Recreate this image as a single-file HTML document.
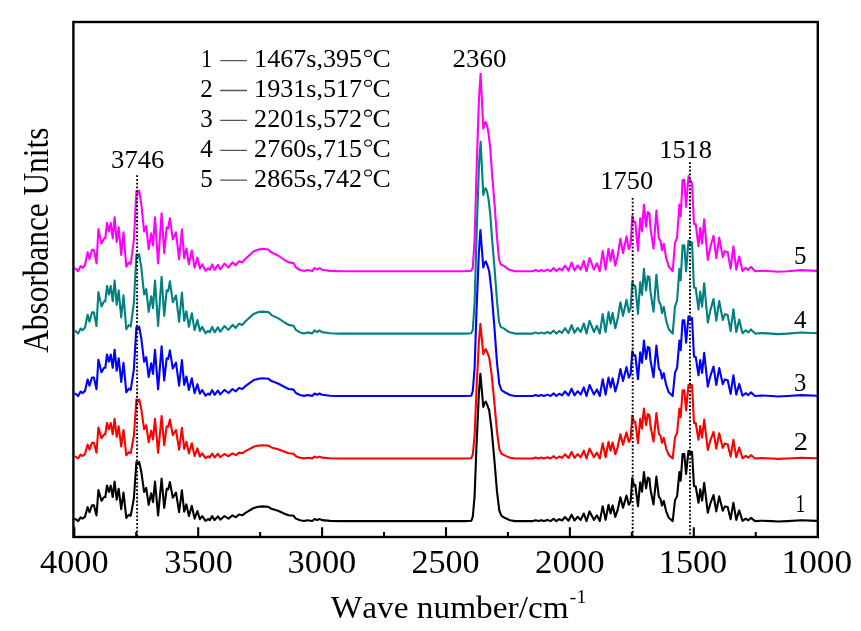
<!DOCTYPE html>
<html><head><meta charset="utf-8"><style>
html,body{margin:0;padding:0;background:#fff;}
body{width:861px;height:631px;overflow:hidden;position:relative;}
svg{position:absolute;left:0;top:0;will-change:transform;}
text{font-family:"Liberation Serif",serif;fill:#000;font-kerning:none;}
</style></head><body>
<svg width="861" height="631" viewBox="0 0 861 631">
<g fill="none" stroke-width="2.1" stroke-linejoin="round" stroke-linecap="round">
<path d="M75.5,268.6 78.1,271.2 80.6,266.0 82.5,267.8 85.0,265.2 87.6,252.2 89.5,259.1 92.0,249.7 93.9,249.7 96.5,263.4 98.4,229.0 101.5,243.6 104.1,238.4 105.3,238.4 107.0,222.9 108.9,231.5 110.7,222.9 112.7,238.4 114.6,217.3 116.7,242.0 118.7,227.3 121.2,254.9 123.5,232.4 126.3,266.8 128.8,262.6 130.7,264.0 133.9,240.2 136.4,191.0 137.7,193.7 139.2,190.7 141.3,204.0 144.1,231.5 146.2,226.0 148.7,249.2 151.2,233.3 153.0,245.4 155.0,217.3 158.1,263.4 161.6,213.4 164.2,253.1 166.7,227.3 168.2,228.1 169.9,218.2 172.8,239.4 176.0,232.4 179.1,259.1 181.9,229.4 184.2,258.3 186.4,248.5 188.9,264.3 191.8,250.5 194.6,267.8 197.4,257.5 199.9,268.6 202.2,264.3 205.5,270.8 208.1,268.3 209.8,269.8 212.2,264.4 214.6,269.8 217.9,264.8 220.3,269.3 224.4,263.6 228.5,267.4 232.5,262.4 235.8,265.4 239.0,261.2 242.3,262.4 245.5,258.7 248.8,255.7 253.7,251.3 258.5,249.5 262.6,248.9 268.3,249.5 271.5,252.5 278.0,255.5 284.6,260.0 288.6,262.4 293.5,263.1 295.9,267.4 300.0,270.0 304.1,271.0 307.3,270.0 312.2,271.0 314.6,268.0 317.1,269.7 319.5,268.0 322.0,269.7 330.0,270.9 340.0,271.2 400.0,271.2 465.0,271.2 471.3,270.8 472.8,267.3 474.6,239.6 476.5,172.5 478.9,99.9 480.6,73.9 481.9,99.9 483.3,128.7 484.4,124.2 485.6,121.8 487.0,125.2 488.5,133.1 490.3,148.9 492.0,173.1 494.6,204.9 497.2,239.8 499.0,259.0 500.7,264.3 504.2,266.1 508.6,269.4 515.0,271.2 530.0,271.2 532.8,271.2 535.6,270.0 538.4,271.2 541.2,270.0 544.0,271.2 547.5,269.6 550.5,271.2 553.7,268.1 556.3,271.2 559.2,268.5 562.1,270.4 565.0,265.6 568.5,270.7 571.6,262.5 574.5,270.4 577.7,265.4 580.7,269.6 583.8,260.9 586.5,271.2 589.6,258.0 594.0,269.6 596.9,263.3 599.8,271.2 602.7,251.1 605.6,269.6 608.5,249.0 610.6,260.9 612.6,249.8 615.3,265.6 617.6,256.2 620.4,238.8 623.0,253.0 626.5,236.4 628.8,249.0 630.6,245.1 632.3,216.1 633.9,222.2 635.3,222.2 638.0,250.8 640.2,218.4 642.0,231.2 643.9,204.6 646.1,226.7 647.8,212.0 649.4,213.1 650.5,228.2 653.5,248.6 656.4,210.5 658.8,238.0 660.5,241.0 662.0,250.1 663.8,243.7 666.1,257.6 668.8,266.7 672.7,271.2 675.0,243.0 677.1,237.2 679.4,204.6 680.7,216.3 682.6,180.1 684.3,180.1 686.1,207.0 688.5,176.1 690.0,179.4 692.0,183.3 694.0,223.9 695.7,224.0 698.5,246.3 700.2,228.0 702.1,243.5 704.2,219.2 707.8,259.9 710.6,246.3 713.5,235.7 716.3,258.0 719.2,237.6 722.8,257.1 724.9,251.2 727.7,252.2 730.6,268.6 733.4,246.3 736.3,269.6 739.2,256.6 742.5,270.9 745.7,267.8 748.3,270.1 750.9,266.8 755.1,271.2 761.4,270.7 771.8,271.2 778.1,271.7 787.5,271.2 801.1,270.1 817.0,270.9" stroke="#FF00FF"/>
<path d="M75.5,331.1 78.1,333.6 80.6,328.5 82.5,330.2 85.0,327.7 87.6,314.8 89.5,321.7 92.0,312.4 93.9,312.4 96.5,326.0 98.4,292.1 101.5,306.4 104.1,301.3 105.3,301.3 107.0,286.0 108.9,294.5 110.7,286.0 112.7,301.3 114.6,280.5 116.7,304.8 118.7,290.3 121.2,317.5 123.5,295.4 126.3,329.3 128.8,325.2 130.7,326.5 133.9,303.0 136.4,254.5 137.7,257.2 139.2,254.3 141.3,267.4 144.1,294.5 146.2,289.1 148.7,311.9 151.2,296.2 153.0,308.1 155.0,280.5 158.1,326.0 161.6,276.7 164.2,315.8 166.7,290.3 168.2,291.1 169.9,281.3 172.8,302.2 176.0,295.4 179.1,321.7 181.9,292.5 184.2,320.9 186.4,311.2 188.9,326.8 191.8,313.2 194.6,330.2 197.4,320.1 199.9,331.1 202.2,326.8 205.5,333.2 208.1,330.8 209.8,332.3 212.2,326.9 214.6,332.3 217.9,327.3 220.3,331.7 224.4,326.1 228.5,329.9 232.5,324.9 235.8,327.9 239.0,323.7 242.3,324.9 245.5,321.3 248.8,318.3 253.7,313.9 258.5,312.1 262.6,311.6 268.3,312.1 271.5,315.1 278.0,318.1 284.6,322.5 288.6,324.9 293.5,325.7 295.9,329.9 300.0,332.4 304.1,333.4 307.3,332.4 312.2,333.4 314.6,330.4 317.1,332.1 319.5,330.4 322.0,332.1 330.0,333.3 340.0,333.6 400.0,333.6 465.0,333.6 471.3,333.2 472.8,329.8 474.6,302.9 476.5,237.6 478.9,166.9 480.6,141.5 481.9,166.9 483.3,194.9 484.4,190.5 485.6,188.2 487.0,191.4 488.5,199.1 490.3,214.5 492.0,238.1 494.6,269.1 497.2,303.1 499.0,321.7 500.7,326.9 504.2,328.6 508.6,331.9 515.0,333.6 530.0,333.6 532.8,333.6 535.6,332.4 538.4,333.6 541.2,332.4 544.0,333.6 547.5,332.0 550.5,333.6 553.7,330.6 556.3,333.6 559.2,331.0 562.1,332.8 565.0,328.2 568.5,333.1 571.6,325.2 574.5,332.8 577.7,327.9 580.7,332.0 583.8,323.6 586.5,333.6 589.6,320.8 594.0,332.0 596.9,325.9 599.8,333.6 602.7,314.1 605.6,332.0 608.5,312.1 610.6,323.6 612.6,312.9 615.3,328.2 617.6,319.1 620.4,302.2 623.0,315.9 626.5,299.8 628.8,312.1 630.6,308.3 632.3,281.5 633.9,286.1 635.3,286.1 638.0,313.8 640.2,282.4 642.0,294.8 643.9,268.9 646.1,290.4 647.8,276.2 649.4,277.2 650.5,291.9 653.5,311.7 656.4,274.7 658.8,301.4 660.5,304.3 662.0,313.1 663.8,306.9 666.1,320.4 668.8,329.2 672.7,333.6 675.0,306.3 677.1,300.6 679.4,268.9 680.7,280.3 682.6,245.2 684.3,245.2 686.1,271.3 688.5,240.7 690.0,244.4 692.0,242.3 694.0,287.7 695.7,287.8 698.5,309.4 700.2,291.6 702.1,306.7 704.2,283.2 707.8,322.6 710.6,309.4 713.5,299.1 716.3,320.8 719.2,301.0 722.8,319.9 724.9,314.2 727.7,315.1 730.6,331.1 733.4,309.4 736.3,332.0 739.2,319.5 742.5,333.3 745.7,330.3 748.3,332.5 750.9,329.4 755.1,333.6 761.4,333.1 771.8,333.6 778.1,334.1 787.5,333.6 801.1,332.5 817.0,333.3" stroke="#008080"/>
<path d="M75.5,393.8 78.1,396.0 80.6,391.6 82.5,393.1 85.0,390.9 87.6,379.6 89.5,385.6 92.0,377.5 93.9,377.5 96.5,389.3 98.4,359.7 101.5,372.2 104.1,367.8 105.3,367.8 107.0,354.5 108.9,361.8 110.7,354.5 112.7,367.8 114.6,349.7 116.7,370.8 118.7,358.2 121.2,382.0 123.5,362.7 126.3,392.3 128.8,388.6 130.7,389.8 133.9,369.3 136.4,327.0 137.7,329.3 139.2,326.7 141.3,338.2 144.1,361.8 146.2,357.2 148.7,377.0 151.2,363.4 153.0,373.8 155.0,349.7 158.1,389.3 161.6,346.3 164.2,380.4 166.7,358.2 168.2,358.9 169.9,350.4 172.8,368.6 176.0,362.7 179.1,385.6 181.9,360.1 184.2,384.9 186.4,376.5 188.9,390.0 191.8,378.2 194.6,393.1 197.4,384.2 199.9,393.8 202.2,390.0 205.5,395.6 208.1,393.5 209.8,394.8 212.2,390.1 214.6,394.8 217.9,390.5 220.3,394.4 224.4,389.9 228.5,393.0 232.5,389.0 235.8,391.4 239.0,388.0 242.3,389.0 245.5,386.1 248.8,383.7 253.7,380.1 258.5,378.7 262.6,378.2 268.3,378.7 271.5,381.1 278.0,383.5 284.6,387.0 288.6,389.0 293.5,389.6 295.9,393.0 300.0,395.0 304.1,395.9 307.3,395.0 312.2,395.9 314.6,393.5 317.1,394.8 319.5,393.5 322.0,394.8 330.0,395.8 340.0,396.0 400.0,396.0 465.0,396.0 471.3,395.7 472.8,391.0 474.6,367.8 476.5,311.4 478.9,251.7 480.4,230.1 481.8,248.3 483.3,267.4 484.5,263.3 485.8,261.3 487.2,264.9 489.2,271.2 491.5,291.5 494.2,324.7 497.0,362.8 499.3,384.1 501.5,390.2 505.6,392.8 510.0,395.0 515.0,396.0 530.0,396.0 532.8,396.0 535.6,395.0 538.4,396.0 541.2,395.0 544.0,396.0 547.5,394.6 550.5,396.0 553.7,393.4 556.3,396.0 559.2,393.7 562.1,395.3 565.0,391.4 568.5,395.5 571.6,388.8 574.5,395.3 577.7,391.1 580.7,394.6 583.8,387.4 586.5,396.0 589.6,385.0 594.0,394.6 596.9,389.4 599.8,396.0 602.7,379.3 605.6,394.6 608.5,377.6 610.6,387.4 612.6,378.3 615.3,391.4 617.6,383.6 620.4,369.1 623.0,380.9 626.5,367.1 628.8,377.6 630.6,374.3 632.3,351.3 633.9,355.3 635.3,355.3 638.0,379.1 640.2,352.2 642.0,362.8 643.9,340.6 646.1,359.0 647.8,346.8 649.4,347.7 650.5,360.3 653.5,377.2 656.4,345.6 658.8,368.4 660.5,370.9 662.0,378.5 663.8,373.2 666.1,384.7 668.8,392.3 672.7,396.0 675.0,372.6 677.1,367.8 679.4,340.6 680.7,350.3 682.6,320.3 684.3,320.3 686.1,342.7 688.5,316.4 690.0,319.6 692.0,317.8 694.0,356.7 695.7,356.8 698.5,375.3 700.2,360.1 702.1,372.9 704.2,352.8 707.8,386.6 710.6,375.3 713.5,366.5 716.3,385.0 719.2,368.1 722.8,384.2 724.9,379.4 727.7,380.2 730.6,393.9 733.4,375.3 736.3,394.6 739.2,383.9 742.5,395.8 745.7,393.2 748.3,395.1 750.9,392.4 755.1,396.0 761.4,395.5 771.8,396.0 778.1,396.5 787.5,396.0 801.1,395.1 817.0,395.8" stroke="#0000FF"/>
<path d="M75.5,456.6 78.1,458.5 80.6,454.7 82.5,456.0 85.0,454.1 87.6,444.5 89.5,449.6 92.0,442.7 93.9,442.7 96.5,452.8 98.4,427.5 101.5,438.2 104.1,434.4 105.3,434.4 107.0,423.0 108.9,429.3 110.7,423.0 112.7,434.4 114.6,418.9 116.7,437.0 118.7,426.2 121.2,446.5 123.5,430.0 126.3,455.3 128.8,452.2 130.7,453.2 133.9,435.7 136.4,399.5 137.7,401.5 139.2,399.3 141.3,409.1 144.1,429.3 146.2,425.3 148.7,442.3 151.2,430.6 153.0,439.5 155.0,418.9 158.1,452.8 161.6,416.0 164.2,445.2 166.7,426.2 168.2,426.8 169.9,419.5 172.8,435.1 176.0,430.0 179.1,449.6 181.9,427.8 184.2,449.0 186.4,441.8 188.9,453.4 191.8,443.3 194.6,456.0 197.4,448.4 199.9,456.6 202.2,453.4 205.5,458.2 208.1,456.4 209.8,457.5 212.2,453.5 214.6,457.5 217.9,453.8 220.3,457.1 224.4,454.0 228.5,456.2 232.5,453.3 235.8,455.1 239.0,452.6 242.3,453.3 245.5,451.1 248.8,449.3 253.7,446.7 258.5,445.6 262.6,445.3 268.3,445.6 271.5,447.4 278.0,449.2 284.6,451.8 288.6,453.3 293.5,453.7 295.9,456.2 300.0,457.8 304.1,458.4 307.3,457.8 312.2,458.4 314.6,456.6 317.1,457.6 319.5,456.6 322.0,457.6 330.0,458.3 340.0,458.5 400.0,458.5 465.0,458.5 471.3,458.2 472.8,454.5 474.6,435.6 476.5,389.9 478.9,341.4 480.4,323.9 481.8,338.7 483.3,354.2 484.5,350.8 485.8,349.2 487.2,352.2 489.2,357.3 491.5,373.7 494.2,400.6 497.0,431.6 499.3,448.8 501.5,453.8 505.6,455.9 510.0,457.7 515.0,458.5 530.0,458.5 532.8,458.5 535.6,457.6 538.4,458.5 541.2,457.6 544.0,458.5 547.5,457.3 550.5,458.5 553.7,456.2 556.3,458.5 559.2,456.5 562.1,457.9 565.0,454.3 568.5,458.1 571.6,452.0 574.5,457.9 577.7,454.1 580.7,457.3 583.8,450.7 586.5,458.5 589.6,448.6 594.0,457.3 596.9,452.6 599.8,458.5 602.7,443.4 605.6,457.3 608.5,441.9 610.6,450.7 612.6,442.5 615.3,454.3 617.6,447.3 620.4,434.2 623.0,444.8 626.5,432.4 628.8,441.9 630.6,438.9 632.3,415.5 633.9,421.8 635.3,421.8 638.0,443.2 640.2,418.9 642.0,428.5 643.9,408.5 646.1,425.1 647.8,414.1 649.4,414.9 650.5,426.3 653.5,441.6 656.4,413.0 658.8,433.6 660.5,435.9 662.0,442.7 663.8,437.9 666.1,448.3 668.8,455.1 672.7,458.5 675.0,437.4 677.1,433.0 679.4,408.5 680.7,417.3 682.6,390.2 684.3,390.2 686.1,410.4 688.5,384.7 690.0,384.9 692.0,385.0 694.0,423.0 695.7,423.1 698.5,439.8 700.2,426.1 702.1,437.7 704.2,419.5 707.8,450.0 710.6,439.8 713.5,431.9 716.3,448.6 719.2,433.3 722.8,447.9 724.9,443.5 727.7,444.2 730.6,456.6 733.4,439.8 736.3,457.3 739.2,447.6 742.5,458.3 745.7,455.9 748.3,457.7 750.9,455.2 755.1,458.5 761.4,458.1 771.8,458.5 778.1,458.9 787.5,458.5 801.1,457.7 817.0,458.3" stroke="#FF0000"/>
<path d="M75.5,519.2 78.1,521.1 80.6,517.3 82.5,518.6 85.0,516.7 87.6,507.1 89.5,512.2 92.0,505.3 93.9,505.3 96.5,515.4 98.4,490.1 101.5,500.8 104.1,497.0 105.3,497.0 107.0,485.6 108.9,491.9 110.7,485.6 112.7,497.0 114.6,481.5 116.7,499.6 118.7,488.8 121.2,509.1 123.5,492.6 126.3,517.9 128.8,514.8 130.7,515.8 133.9,498.3 136.4,462.1 137.7,464.1 139.2,461.9 141.3,471.7 144.1,491.9 146.2,487.9 148.7,504.9 151.2,493.2 153.0,502.1 155.0,481.5 158.1,515.4 161.6,478.6 164.2,507.8 166.7,488.8 168.2,489.4 169.9,482.1 172.8,497.7 176.0,492.6 179.1,512.2 181.9,490.4 184.2,511.6 186.4,504.4 188.9,516.0 191.8,505.9 194.6,518.6 197.4,511.0 199.9,519.2 202.2,516.0 205.5,520.8 208.1,519.0 209.8,520.1 212.2,516.1 214.6,520.1 217.9,516.4 220.3,519.7 224.4,516.1 228.5,518.6 232.5,515.3 235.8,517.3 239.0,514.5 242.3,515.3 245.5,512.9 248.8,510.9 253.7,508.0 258.5,506.8 262.6,506.4 268.3,506.8 271.5,508.8 278.0,510.8 284.6,513.7 288.6,515.3 293.5,515.8 295.9,518.6 300.0,520.3 304.1,521.0 307.3,520.3 312.2,521.0 314.6,519.0 317.1,520.1 319.5,519.0 322.0,520.1 330.0,520.9 340.0,521.1 400.0,521.1 465.0,521.1 471.3,520.8 472.8,516.7 474.6,496.1 476.5,446.0 478.9,393.0 480.4,373.9 481.8,390.1 483.3,407.0 484.5,403.3 485.8,401.6 487.2,404.8 489.2,410.4 491.5,428.4 494.2,457.8 497.0,491.7 499.3,510.5 501.5,515.9 505.6,518.3 510.0,520.2 515.0,521.1 530.0,521.1 532.8,521.1 535.6,520.2 538.4,521.1 541.2,520.2 544.0,521.1 547.5,519.9 550.5,521.1 553.7,518.8 556.3,521.1 559.2,519.1 562.1,520.5 565.0,517.0 568.5,520.7 571.6,514.7 574.5,520.5 577.7,516.8 580.7,519.9 583.8,513.5 586.5,521.1 589.6,511.4 594.0,519.9 596.9,515.3 599.8,521.1 602.7,506.3 605.6,519.9 608.5,504.8 610.6,513.5 612.6,505.4 615.3,517.0 617.6,510.1 620.4,497.3 623.0,507.7 626.5,495.5 628.8,504.8 630.6,501.9 632.3,477.7 633.9,485.1 635.3,485.1 638.0,506.1 640.2,482.3 642.0,491.7 643.9,472.1 646.1,488.4 647.8,477.6 649.4,478.4 650.5,489.5 653.5,504.5 656.4,476.5 658.8,496.7 660.5,498.9 662.0,505.6 663.8,500.9 666.1,511.1 668.8,517.8 672.7,521.1 675.0,500.4 677.1,496.1 679.4,472.1 680.7,480.7 682.6,454.1 684.3,454.1 686.1,473.9 688.5,450.7 690.0,453.5 692.0,451.9 694.0,486.3 695.7,486.4 698.5,502.8 700.2,489.3 702.1,500.7 704.2,482.9 707.8,512.8 710.6,502.8 713.5,495.0 716.3,511.4 719.2,496.4 722.8,510.7 724.9,506.4 727.7,507.1 730.6,519.2 733.4,502.8 736.3,519.9 739.2,510.4 742.5,520.9 745.7,518.6 748.3,520.3 750.9,517.9 755.1,521.1 761.4,520.7 771.8,521.1 778.1,521.5 787.5,521.1 801.1,520.3 817.0,520.9" stroke="#000000"/>
</g>
<g stroke="#000" stroke-width="1.9" stroke-dasharray="1.8 1.94" fill="none">
<path d="M137.1,175.2V536"/>
<path d="M632.7,198V536"/>
<path d="M690,162.2V536"/>
</g>
<rect x="73.4" y="22" width="744.4" height="515" fill="none" stroke="#000" stroke-width="2.4"/>
<path d="M74.30,537V527.20 M136.25,537V532.00 M198.20,537V527.20 M260.15,537V532.00 M322.10,537V527.20 M384.05,537V532.00 M446.00,537V527.20 M507.95,537V532.00 M569.90,537V527.20 M631.85,537V532.00 M693.80,537V527.20 M755.75,537V532.00" stroke="#000" stroke-width="2.1" fill="none"/>
<path d="M220.2,60.6H247 M220.2,90.5H247 M220.2,120.4H247 M220.2,150.3H247 M220.2,180.2H247" stroke="#555" stroke-width="1.3" fill="none"/>
<text x="40.03" y="573.20" font-size="33" textLength="68.58" lengthAdjust="spacingAndGlyphs">4000</text>
<text x="164.26" y="573.20" font-size="33" textLength="68.55" lengthAdjust="spacingAndGlyphs">3500</text>
<text x="287.56" y="573.20" font-size="33" textLength="68.75" lengthAdjust="spacingAndGlyphs">3000</text>
<text x="411.40" y="573.20" font-size="33" textLength="68.30" lengthAdjust="spacingAndGlyphs">2500</text>
<text x="535.07" y="573.20" font-size="33" textLength="69.45" lengthAdjust="spacingAndGlyphs">2000</text>
<text x="658.79" y="573.20" font-size="33" textLength="68.41" lengthAdjust="spacingAndGlyphs">1500</text>
<text x="781.50" y="573.20" font-size="33" textLength="70.54" lengthAdjust="spacingAndGlyphs">1000</text>
<text x="330.77" y="617.80" font-size="32" textLength="237.85" lengthAdjust="spacingAndGlyphs">Wave number/cm</text>
<text x="569.86" y="602.80" font-size="19" textLength="16.53" lengthAdjust="spacingAndGlyphs">-1</text>
<text transform="rotate(-90)" x="-352.81" y="47.6" font-size="35" textLength="225.14" lengthAdjust="spacingAndGlyphs">Absorbance Units</text>
<text x="201.20" y="67.10" font-size="25" textLength="10.79" lengthAdjust="spacingAndGlyphs">1</text>
<text x="254.11" y="67.1" font-size="25" textLength="108.01" lengthAdjust="spacingAndGlyphs">1467s,395</text>
<text x="372.48" y="67.1" font-size="25" textLength="18.23" lengthAdjust="spacingAndGlyphs">C</text>
<text x="200.3" y="97.0" font-size="25">2</text>
<text x="254.11" y="97.0" font-size="25" textLength="108.01" lengthAdjust="spacingAndGlyphs">1931s,517</text>
<text x="372.48" y="97.0" font-size="25" textLength="18.23" lengthAdjust="spacingAndGlyphs">C</text>
<text x="200.3" y="126.9" font-size="25">3</text>
<text x="254.11" y="126.9" font-size="25" textLength="108.01" lengthAdjust="spacingAndGlyphs">2201s,572</text>
<text x="372.48" y="126.9" font-size="25" textLength="18.23" lengthAdjust="spacingAndGlyphs">C</text>
<text x="200.3" y="156.8" font-size="25">4</text>
<text x="254.11" y="156.8" font-size="25" textLength="108.01" lengthAdjust="spacingAndGlyphs">2760s,715</text>
<text x="372.48" y="156.8" font-size="25" textLength="18.23" lengthAdjust="spacingAndGlyphs">C</text>
<text x="200.3" y="186.7" font-size="25">5</text>
<text x="254.11" y="186.7" font-size="25" textLength="108.01" lengthAdjust="spacingAndGlyphs">2865s,742</text>
<text x="372.48" y="186.7" font-size="25" textLength="18.23" lengthAdjust="spacingAndGlyphs">C</text>
<text x="111.13" y="168.10" font-size="25" textLength="53.27" lengthAdjust="spacingAndGlyphs">3746</text>
<text x="452.62" y="66.80" font-size="25" textLength="53.91" lengthAdjust="spacingAndGlyphs">2360</text>
<text x="600.38" y="189.30" font-size="25" textLength="52.72" lengthAdjust="spacingAndGlyphs">1750</text>
<text x="659.17" y="158.00" font-size="25" textLength="52.93" lengthAdjust="spacingAndGlyphs">1518</text>
<text x="794.04" y="263.80" font-size="25" textLength="12.54" lengthAdjust="spacingAndGlyphs">5</text>
<text x="794.01" y="327.80" font-size="25" textLength="12.48" lengthAdjust="spacingAndGlyphs">4</text>
<text x="794.02" y="390.60" font-size="25" textLength="12.35" lengthAdjust="spacingAndGlyphs">3</text>
<text x="793.65" y="450.20" font-size="25" textLength="14.22" lengthAdjust="spacingAndGlyphs">2</text>
<text x="795.38" y="512.30" font-size="25" textLength="9.80" lengthAdjust="spacingAndGlyphs">1</text>
<g fill="none" stroke="#000" stroke-width="1.05">
<ellipse cx="368.05" cy="53.4" rx="3.45" ry="3.05"/>
<ellipse cx="368.05" cy="83.3" rx="3.45" ry="3.05"/>
<ellipse cx="368.05" cy="113.2" rx="3.45" ry="3.05"/>
<ellipse cx="368.05" cy="143.1" rx="3.45" ry="3.05"/>
<ellipse cx="368.05" cy="173.0" rx="3.45" ry="3.05"/>
</g>
</svg>
</body></html>
